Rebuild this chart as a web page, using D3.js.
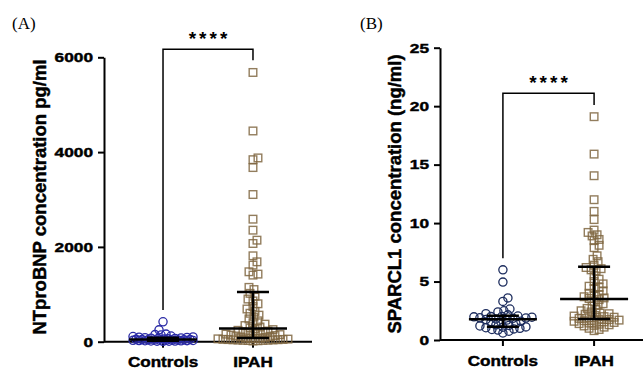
<!DOCTYPE html>
<html>
<head>
<meta charset="utf-8">
<script src="https://cdn.jsdelivr.net/npm/d3@7"></script>
<style>
  body { margin: 0; background: #fff; }
  svg { display: block; }
  .heavy { stroke: #000; stroke-width: 0.45px; }
</style>
</head>
<body>
<svg id="chart" width="643" height="373"></svg>
<script>
// Values (A: NTproBNP, B: SPARCL1).

const groups = ["Controls", "IPAH"];

// Panel A, pg/ml
const bnpControls = [420, 250, 160, 150, 140, 120, 110, 100, 95, 90, 85, 80, 75, 70, 65, 60, 55, 50, 48,
    45, 42, 40, 38, 36, 34, 32, 30, 28, 26, 24, 22, 20, 18, 16, 14, 12, 10, 8];
const bnpIpah = [5680, 4446, 3877, 3840, 3674, 3105, 2585, 2353, 2142, 2072, 1812, 1685, 1616, 1475, 1426,
    1405, 1146, 1100, 1020, 960, 900, 860, 800, 740, 690, 640, 600, 560, 520, 480, 440, 400, 370, 340,
    310, 290, 270, 255, 240, 225, 210, 200, 190, 180, 170, 160, 150, 140, 130, 120, 110, 100, 90, 80,
    75, 70, 65, 60, 55, 50, 48, 45, 42, 40, 38, 35, 32, 30, 28, 25, 20, 15];
// median, q1, q3 for Controls and IPAH
const bnpSummary = [[45, 20, 85], [280, 78, 1050]];
const bnpTicks = [0, 2000, 4000, 6000];
// bracket: top, left leg end, right leg end
const bnpBracket = [6170, 670, 5940];

// Panel B, ng/ml
const sparControls = [6.0, 4.95, 3.6, 3.3, 2.65, 2.5, 2.4, 2.25, 2.15, 2.05, 2.02, 2.0, 1.98, 1.95, 1.9,
    1.88, 1.85, 1.8, 1.75, 1.7, 1.6, 1.55, 1.5, 1.4, 1.3, 1.25, 1.2, 1.12, 1.1, 1.05, 1.0, 0.95, 0.9,
    0.85, 0.75, 0.6];
const sparIpah = [19.1, 15.9, 14.05, 12.0, 11.0, 10.3, 9.4, 9.2, 9.0, 8.9, 8.6, 8.5, 8.1, 7.9, 7.2, 6.9,
    6.7, 6.4, 6.2, 6.1, 6.0, 5.9, 5.5, 5.2, 5.0, 4.8, 4.6, 4.5, 4.4, 4.2, 4.0, 3.9, 3.8, 3.7, 3.6, 3.55,
    3.45, 3.3, 3.1, 3.0, 2.9, 2.7, 2.6, 2.5, 2.4, 2.3, 2.25, 2.2, 2.1, 2.05, 2.0, 1.95, 1.9, 1.85,
    1.78, 1.75, 1.7, 1.68, 1.65, 1.6, 1.55, 1.5, 1.45, 1.4, 1.35, 1.3, 1.25, 1.2, 1.1, 1.0, 0.9, 0.8];
const sparSummary = [[1.77, 1.14, 2.08], [3.5, 1.8, 6.27]];
const sparTicks = [0, 5, 10, 15, 20, 25];
const sparBracket = [21.1, 7.0, 20.1];

const svg = d3.select("#chart");
const font = "'Liberation Sans', Arial, sans-serif";

// Simple deterministic swarm: push each point sideways until it clears the ones already placed.
function swarm(values, y, minDist, maxOff) {
    let placed = [];
    let order = values.map((v, i) => i).sort((a, b) => values[a] - values[b]);
    let out = new Array(values.length);
    order.forEach(i => {
        let py = y(values[i]);
        let best = 0, bestScore = -1;
        for (let k = 0; k <= 2 * maxOff; k++) {
            let off = (k % 2 ? 1 : -1) * Math.ceil(k / 2);
            let d = d3.min(placed, p => Math.hypot(p[0] - off, p[1] - py));
            if (d === undefined || d >= minDist) { best = off; bestScore = Infinity; break; }
            if (d > bestScore) { bestScore = d; best = off; }
        }
        placed.push([best, py]);
        out[i] = best;
    });
    return out;
}

function panel(opt) {
    let g = svg.append("g");

    let y = d3.scaleLinear().domain(opt.domain).range([opt.y0, opt.y1]);
    let x = d3.scalePoint().domain(groups).range([opt.x0, opt.x1]).padding(opt.pad);

    // y axis
    let ya = g.append("g")
        .attr("transform", `translate(${opt.x0},0)`)
        .call(d3.axisLeft(y).tickValues(opt.ticks).tickFormat(d3.format("d"))
            .tickSize(6).tickPadding(4).tickSizeOuter(0));
    ya.select(".domain").attr("stroke-width", 2);
    ya.selectAll(".tick line").attr("stroke-width", 2);
    ya.selectAll(".tick text")
        .attr("x", 0)
        .attr("class", "heavy")
        .attr("transform", "translate(-11,0) scale(1.28,1)")
        .style("font-family", font).style("font-weight", "bold").style("font-size", "13.5px");

    // x axis
    let xa = g.append("g")
        .attr("transform", `translate(0,${opt.y0})`)
        .call(d3.axisBottom(x).tickSize(6).tickPadding(9).tickSizeOuter(0));
    xa.select(".domain").attr("stroke-width", 2).attr("d", `M${opt.x0},0H${opt.x1}`);
    xa.selectAll(".tick line").attr("stroke-width", 2);
    xa.selectAll(".tick text")
        .attr("class", "heavy")
        .attr("transform", "scale(1.14,1)")
        .attr("x", 0)
        .style("font-family", font).style("font-weight", "bold").style("font-size", "15px");
    xa.selectAll(".tick").attr("transform", d => `translate(${x(d)},0)`);

    // y title
    g.append("text")
        .attr("class", "heavy")
        .attr("transform", `translate(${opt.titleX},${opt.titleY}) rotate(-90)`)
        .attr("text-anchor", "middle")
        .style("font-family", font).style("font-weight", "bold").style("font-size", "18.5px")
        .text(opt.title);

    // panel letter
    g.append("text")
        .attr("x", opt.letterX).attr("y", 29)
        .style("font-family", "'Liberation Serif', 'Times New Roman', serif").style("font-size", "17px")
        .text(opt.letter);

    // controls: open circles
    let cx = x("Controls");
    let offC = swarm(opt.controls, y, 5.5, 30);
    g.append("g").selectAll("circle")
        .data(opt.controls)
        .join("circle")
        .attr("cx", (d, i) => cx + offC[i])
        .attr("cy", d => y(d))
        .attr("r", 4.1)
        .attr("fill", "none")
        .attr("stroke", opt.circleColor)
        .attr("stroke-width", 1.3);

    // IPAH: open squares
    let ix = x("IPAH");
    let offI = swarm(opt.ipah, y, 5, 38);
    g.append("g").selectAll("rect")
        .data(opt.ipah)
        .join("rect")
        .attr("x", (d, i) => ix + offI[i] - 3.8)
        .attr("y", d => y(d) - 3.8)
        .attr("width", 7.6).attr("height", 7.6)
        .attr("fill", "none")
        .attr("stroke", "#7f6641")
        .attr("stroke-width", 1.4)
        .attr("stroke-opacity", 0.85);

    // median with interquartile range
    let bars = g.append("g").attr("stroke", "#000").attr("stroke-width", 2.5);
    groups.forEach((grp, i) => {
        let [med, q1, q3] = opt.summary[i];
        let c = x(grp);
        bars.append("line").attr("x1", c - 34).attr("x2", c + 34).attr("y1", y(med)).attr("y2", y(med));
        bars.append("line").attr("x1", c).attr("x2", c).attr("y1", y(q1)).attr("y2", y(q3));
        bars.append("line").attr("x1", c - 16).attr("x2", c + 16).attr("y1", y(q1)).attr("y2", y(q1));
        bars.append("line").attr("x1", c - 16).attr("x2", c + 16).attr("y1", y(q3)).attr("y2", y(q3));
    });

    // significance bracket
    let [top, left, right] = opt.bracket;
    let xl = x("Controls"), xr = x("IPAH");
    g.append("path")
        .attr("d", `M${xl},${y(left)}V${y(top)}H${xr}V${y(right)}`)
        .attr("fill", "none").attr("stroke", "#000").attr("stroke-width", 1.5);
    g.append("text")
        .attr("x", (xl + xr) / 2 + 1.5)
        .attr("y", y(top) - 4)
        .attr("text-anchor", "middle")
        .style("font-family", font).style("font-weight", "bold").style("font-size", "19px")
        .style("letter-spacing", "3px")
        .text("****");
}

panel({
    domain: [0, 6000], ticks: bnpTicks, y0: 341.7, y1: 57.3,
    x0: 104, x1: 312, pad: 0.656,
    controls: bnpControls, ipah: bnpIpah, summary: bnpSummary, bracket: bnpBracket,
    title: "NTproBNP concentration pg/ml", titleX: 46, titleY: 197,
    letter: "(A)", letterX: 12, circleColor: "#2b2ba6"
});

panel({
    domain: [0, 25], ticks: sparTicks, y0: 340, y1: 47.7,
    x0: 440, x1: 657, pad: 0.69,
    controls: sparControls, ipah: sparIpah, summary: sparSummary, bracket: sparBracket,
    title: "SPARCL1 concentration (ng/ml)", titleX: 401, titleY: 194,
    letter: "(B)", letterX: 360, circleColor: "#1d2d5e"
});
</script>
</body>
</html>
